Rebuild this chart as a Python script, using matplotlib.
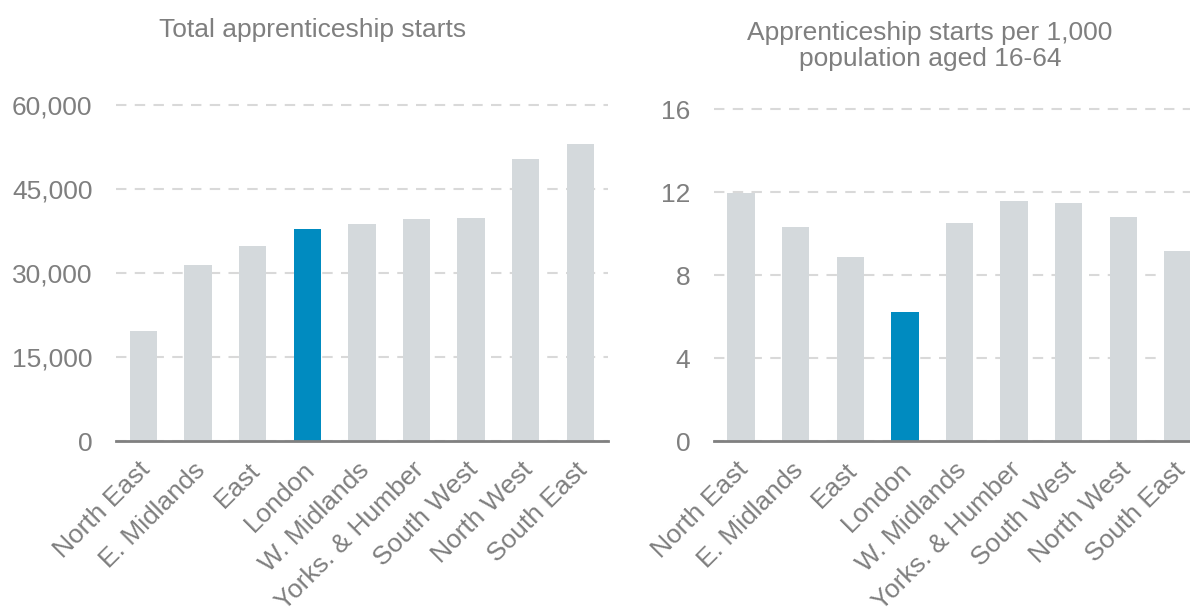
# =========================================================
# APPRENTICESHIP STARTS BY REGION — TWO PANEL BAR CHART
# =========================================================

import numpy as np
import matplotlib
matplotlib.use("Agg")
import matplotlib.pyplot as plt
from matplotlib.transforms import ScaledTranslation

plt.rcParams["font.family"] = ["Liberation Sans", "DejaVu Sans"]

# =========================================================
# DATA
# =========================================================

regions_total = [
    "North East", "E. Midlands", "East", "London", "W. Midlands",
    "Yorks. & Humber", "South West", "North West", "South East",
]
total_starts = [19700, 31500, 34900, 37800, 38800, 39600, 39900, 50400, 53000]

regions_rate = [
    "North East", "E. Midlands", "East", "London", "W. Midlands",
    "Yorks. & Humber", "South West", "North West", "South East",
]
starts_per_1000 = [11.98, 10.33, 8.90, 6.23, 10.52, 11.57, 11.49, 10.83, 9.19]

highlight = "London"

# =========================================================
# STYLE
# =========================================================

GREY_BAR = "#d4d9dc"
BLUE_BAR = "#008bc0"
TEXT_COL = "#7f7f7f"
GRID_COL = "#d9d9d9"
AXIS_COL = "#808080"


def draw_panel(ax, labels, values, ymax, step, fmt):
    x = np.arange(len(labels))
    colors = [BLUE_BAR if lab == highlight else GREY_BAR for lab in labels]
    ax.bar(x, values, width=0.5, color=colors, zorder=2)

    ax.set_xlim(-0.5, len(labels) - 0.5)
    ax.set_ylim(0, ymax)
    ticks = np.arange(0, ymax + step, step)
    ax.set_yticks(ticks)
    ax.set_yticklabels([fmt(t) for t in ticks])

    ax.set_xticks(x)
    ax.set_xticklabels(labels, rotation=45, ha="right", va="top",
                       rotation_mode="anchor")

    ax.tick_params(axis="y", length=0, pad=17, labelsize=19,
                   labelcolor=TEXT_COL)
    ax.tick_params(axis="x", length=0, pad=12, labelsize=19,
                   labelcolor=TEXT_COL)

    # nudge category labels a little left of the bar centre
    for lab in ax.get_xticklabels():
        lab.set_transform(lab.get_transform() +
                          ScaledTranslation(-5 / 100, 0,
                                            ax.figure.dpi_scale_trans))

    for side in ["top", "right", "left"]:
        ax.spines[side].set_visible(False)
    ax.spines["bottom"].set_color(AXIS_COL)
    ax.spines["bottom"].set_linewidth(2)
    ax.spines["bottom"].set_zorder(3)

    ax.yaxis.grid(True, linestyle=(0, (5, 4)), color=GRID_COL,
                  linewidth=1.5, zorder=0)
    for line in ax.get_ygridlines():
        line.set_clip_on(False)
    ax.set_axisbelow(True)


# =========================================================
# FIGURE
# =========================================================

fig = plt.figure(figsize=(11.9, 6.1), dpi=100)

ax1 = fig.add_axes([0.0975, 0.277, 0.4132, 0.551])
ax2 = fig.add_axes([0.5998, 0.277, 0.4130, 0.5435])

draw_panel(ax1, regions_total, total_starts, 60000, 15000,
           lambda v: f"{int(v):,}")
draw_panel(ax2, regions_rate, starts_per_1000, 16, 4,
           lambda v: f"{int(v)}")

fig.text(313 / 1190, 1 - 30 / 610, "Total apprenticeship starts",
         ha="center", va="center", fontsize=19, color=TEXT_COL)
fig.text(930 / 1190, 1 - 46 / 610,
         "Apprenticeship starts per 1,000\npopulation aged 16-64",
         ha="center", va="center", fontsize=19, color=TEXT_COL,
         linespacing=1.15)

fig.savefig("out.png", dpi=100)
